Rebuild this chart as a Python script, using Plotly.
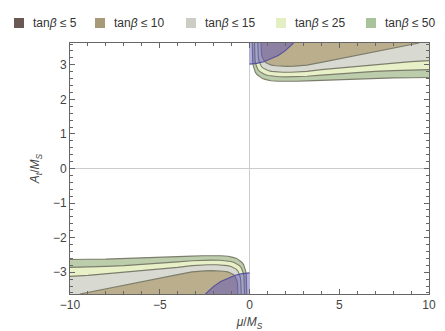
import plotly.graph_objects as go

# boundary curves of each tan(beta) region, upper branch (mu > 0)
# the lower branch is the point mirror (mu, A) -> (-mu, -A)
mu_tb50 = [0.15, 0.155, 0.165, 0.18, 0.21, 0.26, 0.33, 0.43, 0.56, 0.72, 0.92, 1.2, 1.6, 2.0,
           2.6, 3.2, 4.0, 5.0, 6.0, 7.0, 8.0, 9.0, 10.0]
at_tb50 = [3.63, 3.35, 3.2, 3.08, 2.97, 2.87, 2.78, 2.71, 2.65, 2.6, 2.57, 2.54, 2.525, 2.52,
           2.525, 2.535, 2.55, 2.57, 2.59, 2.61, 2.62, 2.625, 2.63]

mu_tb25 = [0.28, 0.285, 0.295, 0.31, 0.34, 0.39, 0.46, 0.56, 0.69, 0.85, 1.05, 1.3, 1.65, 2.1,
           2.6, 3.2, 4.0, 5.0, 6.0, 7.0, 8.0, 9.0, 10.0]
at_tb25 = [3.63, 3.38, 3.24, 3.13, 3.03, 2.94, 2.87, 2.81, 2.76, 2.72, 2.69, 2.67, 2.655, 2.65,
           2.655, 2.67, 2.70, 2.74, 2.78, 2.81, 2.83, 2.845, 2.86]

mu_tb15 = [0.46, 0.465, 0.475, 0.49, 0.52, 0.57, 0.64, 0.74, 0.87, 1.03, 1.23, 1.5, 1.85, 2.3,
           2.8, 3.2, 4.0, 5.0, 6.0, 7.0, 8.0, 9.0, 10.0]
at_tb15 = [3.63, 3.45, 3.33, 3.23, 3.13, 3.04, 2.97, 2.91, 2.87, 2.835, 2.81, 2.795, 2.785, 2.785,
           2.80, 2.81, 2.86, 2.91, 2.96, 3.01, 3.05, 3.09, 3.12]

mu_tb10 = [0.64, 0.645, 0.655, 0.67, 0.7, 0.75, 0.82, 0.92, 1.05, 1.22, 1.45, 1.75, 2.1, 2.5,
           3.2, 4.0, 5.0, 6.0, 7.0, 8.0, 9.0, 9.45]
at_tb10 = [3.63, 3.5, 3.4, 3.32, 3.24, 3.17, 3.11, 3.06, 3.02, 2.99, 2.97, 2.96, 2.955, 2.96,
           2.99, 3.07, 3.17, 3.28, 3.39, 3.49, 3.58, 3.63]

mu_tb5 = [0.0, 0.4, 0.8, 1.2, 1.6, 2.0, 2.3, 2.45]
at_tb5 = [3.02, 3.04, 3.09, 3.17, 3.27, 3.41, 3.54, 3.63]

legend_labels = ["tan<i>β</i> ≤ 5", "tan<i>β</i> ≤ 10", "tan<i>β</i> ≤ 15",
                 "tan<i>β</i> ≤ 25", "tan<i>β</i> ≤ 50"]
legend_colors = ["#6a5852", "#a89a78", "#cdcdc6", "#e3efc2", "#a9c39b"]

x_range = [-10, 10]
y_range = [-3.63, 3.63]
edge = 3.63

FONT = "Liberation Sans"

fig = go.Figure()

line_col = "#7d7d6c"
fills = [
    (mu_tb50, at_tb50, "#bccdab"),
    (mu_tb25, at_tb25, "#e7f0c7"),
    (mu_tb15, at_tb15, "#d8d9d1"),
    (mu_tb10, at_tb10, "#bbae8d"),
]

for sign in (1, -1):
    for mu, at, col in fills:
        # close each region against the top (bottom) edge of the frame
        xs = list(mu) + [10, 10, mu[0]]
        ys = list(at) + [at[-1], edge, edge]
        fig.add_trace(go.Scatter(x=[sign * v for v in xs], y=[sign * v for v in ys],
                                 mode="lines", fill="toself", fillcolor=col,
                                 line=dict(width=0), showlegend=False, hoverinfo="skip"))
    for mu, at, col in fills:
        fig.add_trace(go.Scatter(x=[sign * v for v in mu], y=[sign * v for v in at],
                                 mode="lines", line=dict(color=line_col, width=1.1),
                                 showlegend=False, hoverinfo="skip"))
    xs = list(mu_tb5) + [0]
    ys = list(at_tb5) + [edge]
    fig.add_trace(go.Scatter(x=[sign * v for v in xs], y=[sign * v for v in ys],
                             mode="lines", fill="toself", fillcolor="rgba(85,75,190,0.45)",
                             line=dict(width=0), showlegend=False, hoverinfo="skip"))
    fig.add_trace(go.Scatter(x=[sign * v for v in mu_tb5], y=[sign * v for v in at_tb5],
                             mode="lines", line=dict(color="#55509a", width=1.1),
                             showlegend=False, hoverinfo="skip"))

# manual legend row across the top
W, H = 445, 331
ml, mr, mt, mb = 62, 24, 35, 45
pw, ph = W - ml - mr, H - mt - mb


def px(x):
    return (x - ml) / pw


def py(y):
    return (H - mb - y) / ph


swatch_x = [6, 87, 178, 268, 358]
for sx, lab, col in zip(swatch_x, legend_labels, legend_colors):
    fig.add_shape(type="rect", xref="paper", yref="paper",
                  x0=px(sx), x1=px(sx + 10), y0=py(20), y1=py(10),
                  fillcolor=col, line=dict(color=col, width=0))
    fig.add_annotation(xref="paper", yref="paper", x=px(sx + 17), y=py(15),
                       text=lab, showarrow=False, xanchor="left", yanchor="middle",
                       font=dict(family=FONT, size=12, color="#333333"))

axis_common = dict(
    showline=True, linecolor="#666666", linewidth=1, mirror="allticks",
    ticks="inside", ticklen=5, tickcolor="#666666", showgrid=False,
    zeroline=True, zerolinecolor="#cccccc", zerolinewidth=1,
    tickfont=dict(family=FONT, size=12, color="#444444"),
)

fig.update_xaxes(range=x_range, tickvals=[-10, -5, 0, 5, 10],
                 minor=dict(dtick=1, ticks="inside", ticklen=3, tickcolor="#666666"),
                 title=dict(text="<i>μ</i>/<i>M</i><sub><i>S</i></sub>",
                            font=dict(family=FONT, size=12, color="#444444"), standoff=6),
                 **axis_common)
fig.update_yaxes(range=y_range, tickvals=[-3, -2, -1, 0, 1, 2, 3],
                 minor=dict(dtick=0.2, ticks="inside", ticklen=3, tickcolor="#666666"),
                 title=dict(text="<i>A</i><sub><i>t</i></sub>/<i>M</i><sub><i>S</i></sub>",
                            font=dict(family=FONT, size=12, color="#444444"), standoff=10),
                 **axis_common)

fig.update_layout(
    width=W, height=H,
    margin=dict(l=ml, r=mr, t=mt, b=mb),
    paper_bgcolor="white", plot_bgcolor="white",
    font=dict(family=FONT),
    showlegend=False,
)

fig.write_html("out.html")
